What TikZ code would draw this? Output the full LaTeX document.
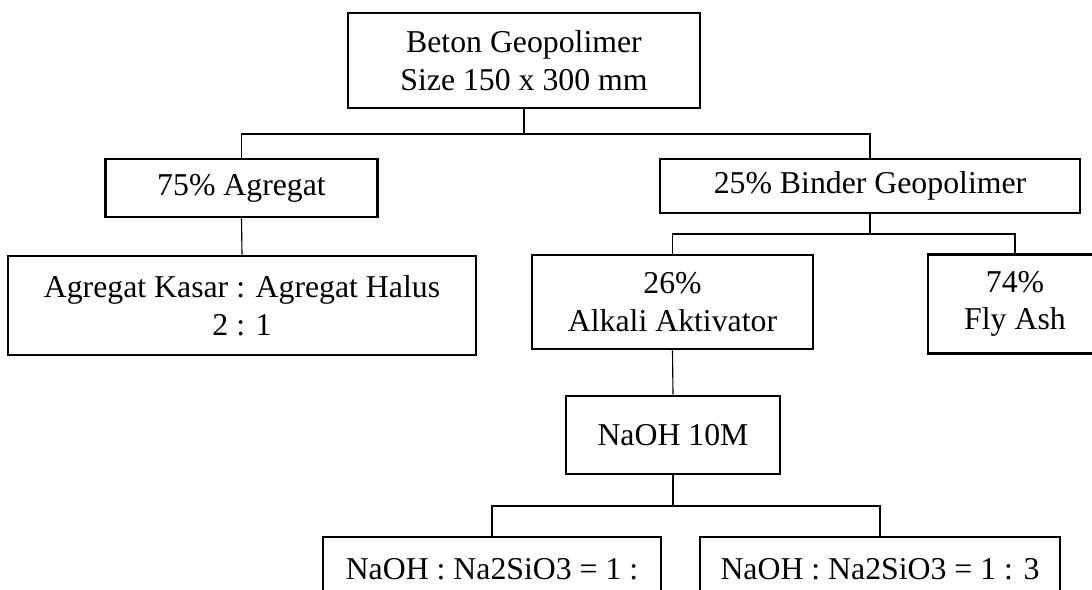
\documentclass[tikz,border=0pt]{standalone}
\usepackage{fontspec}
\setmainfont{Liberation Serif}

\begin{document}
\begin{tikzpicture}[x=0.025cm, y=-0.025cm,
    box/.style={draw, line width=1.8pt, inner sep=0pt, align=center,
      font=\fontsize{22.6}{26.8}\selectfont},
    link/.style={line width=0.8pt}]
  \clip (0,0) rectangle (1092,590);
  \node[box, minimum width=8.8cm, minimum height=2.375cm] (beton) at (524,60.5) {Beton Geopolimer\\Size 150 x 300 mm};
  \node[box, minimum width=6.8cm, minimum height=1.45cm] (agregat) at (241.5,188) {75\% Agregat};
  \node[box, minimum width=10.5cm, minimum height=1.35cm] (binder) at (870,186) {25\% Binder Geopolimer};
  \node[box, minimum width=11.7cm, minimum height=2.475cm] (kasar) at (242,305.5) {Agregat Kasar : Agregat Halus\\2 : 1};
  \node[box, minimum width=7.025cm, minimum height=2.35cm] (alkali) at (672.5,302) {26\%\\Alkali Aktivator};
  \node[box, minimum width=4.35cm, minimum height=2.475cm] (flyash) at (1015,304) {74\%\\Fly Ash};
  \node[box, minimum width=5.35cm, minimum height=1.95cm] (naoh) at (673,435) {NaOH 10M};
  \node[box, minimum width=8.45cm, minimum height=1.6cm] (rasio1) at (492,569) {NaOH : Na2SiO3 = 1 :};
  \node[box, minimum width=9cm, minimum height=1.6cm] (rasio2) at (880,569) {NaOH : Na2SiO3 = 1 : 3};

  % cabang
  \coordinate (j1) at (524,134);
  \coordinate (j2) at (870,234);
  \coordinate (j3) at (673,506);
  \draw[link] (beton.south) -- (j1) -| (agregat.north);
  \draw[link] (j1) -| (binder.north);
  \draw[link] (agregat.south) -- (kasar.north);
  \draw[link] (binder.south) -- (j2) -| (alkali.north);
  \draw[link] (j2) -| (flyash.north);
  \draw[link] (alkali.south) -- (naoh.north);
  \draw[link] (naoh.south) -- (j3) -| (rasio1.north);
  \draw[link] (j3) -| (rasio2.north);
\end{tikzpicture}
\end{document}
